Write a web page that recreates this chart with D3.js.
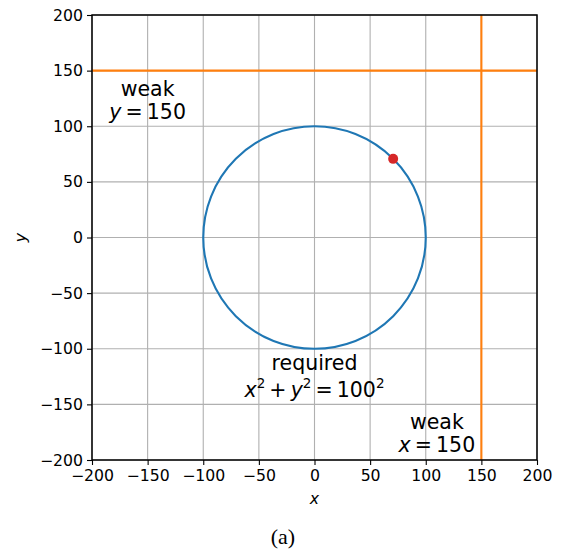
<!DOCTYPE html>
<html>
<head>
<meta charset="utf-8">
<script src="https://cdn.jsdelivr.net/npm/d3@7"></script>
<style>
  html, body { margin: 0; padding: 0; background: #fff; }
  svg { display: block; }
</style>
</head>
<body>
<svg id="chart" width="561" height="552"></svg>
<script>
const xDomain = [-200, 200];
const yDomain = [-200, 200];
const xTicks = [-200, -150, -100, -50, 0, 50, 100, 150, 200];
const yTicks = [-200, -150, -100, -50, 0, 50, 100, 150, 200];
const requiredCircle = { cx: 0, cy: 0, r: 100 };
const weakHorizontalY = [150];
const weakVerticalX = [150];
const solutionPoint = [[70.7, 70.7]];
const annotations = [
  { x: -150, y: 124, lines: ["weak", "y150"] },
  { x: 0, y: -124, lines: ["required", "circ"] },
  { x: 110, y: -176, lines: ["weak", "x150"] }
];

const svg = d3.select("#chart");
const m = { left: 92, right: 537, top: 15, bottom: 460 };
const x = d3.scaleLinear().domain(xDomain).range([m.left, m.right]);
const y = d3.scaleLinear().domain(yDomain).range([m.bottom, m.top]);
const font = "DejaVu Sans";
const fmt = d => (d < 0 ? "\u2212" + Math.abs(d) : String(d));

// grid
const g = svg.append("g");
g.selectAll(".gx").data(xTicks).enter().append("line")
  .attr("x1", d => x(d)).attr("x2", d => x(d))
  .attr("y1", m.top).attr("y2", m.bottom)
  .attr("stroke", "#b0b0b0").attr("stroke-width", 1.1);
g.selectAll(".gy").data(yTicks).enter().append("line")
  .attr("y1", d => y(d)).attr("y2", d => y(d))
  .attr("x1", m.left).attr("x2", m.right)
  .attr("stroke", "#b0b0b0").attr("stroke-width", 1.1);

// weak lines
svg.selectAll(".wh").data(weakHorizontalY).enter().append("line")
  .attr("x1", m.left).attr("x2", m.right)
  .attr("y1", d => y(d)).attr("y2", d => y(d))
  .attr("stroke", "#ff7f0e").attr("stroke-width", 2.1);
svg.selectAll(".wv").data(weakVerticalX).enter().append("line")
  .attr("y1", m.top).attr("y2", m.bottom)
  .attr("x1", d => x(d)).attr("x2", d => x(d))
  .attr("stroke", "#ff7f0e").attr("stroke-width", 2.1);

// required circle
svg.append("circle")
  .attr("cx", x(requiredCircle.cx)).attr("cy", y(requiredCircle.cy))
  .attr("r", x(requiredCircle.r) - x(0))
  .attr("fill", "none").attr("stroke", "#1f77b4").attr("stroke-width", 2.1);

// solution point
svg.selectAll(".pt").data(solutionPoint).enter().append("circle")
  .attr("cx", d => x(d[0])).attr("cy", d => y(d[1]))
  .attr("r", 5).attr("fill", "#d62728");

// axes
const xAxis = d3.axisBottom(x).tickValues(xTicks).tickFormat(fmt).tickSize(5).tickPadding(4);
const yAxis = d3.axisLeft(y).tickValues(yTicks).tickFormat(fmt).tickSize(5).tickPadding(4);
const xa = svg.append("g").attr("transform", `translate(0,${m.bottom})`).call(xAxis);
const ya = svg.append("g").attr("transform", `translate(${m.left},0)`).call(yAxis);
[xa, ya].forEach(a => {
  a.select(".domain").remove();
  a.selectAll(".tick line").attr("stroke", "#000").attr("stroke-width", 1.1);
  a.selectAll(".tick text").attr("font-family", font).attr("font-size", 15.7).attr("fill", "#000");
});
xa.selectAll(".tick text").attr("dy", "0.75em");

// spines
svg.append("rect").attr("x", m.left).attr("y", m.top)
  .attr("width", m.right - m.left).attr("height", m.bottom - m.top)
  .attr("fill", "none").attr("stroke", "#000").attr("stroke-width", 1.5);

// axis labels
svg.append("text").attr("x", (m.left + m.right) / 2).attr("y", 504)
  .attr("text-anchor", "middle").attr("font-family", font).attr("font-style", "italic")
  .attr("font-size", 15.7).text("x");
svg.append("text").attr("transform", `translate(26,${(m.top + m.bottom) / 2}) rotate(-90)`)
  .attr("text-anchor", "middle").attr("font-family", font).attr("font-style", "italic")
  .attr("font-size", 15.7).text("y");

// annotations
const fs = 20.5;
const sup = 13.5;
const sp = "\u2009";
function mathLine(t, kind) {
  if (kind === "y150") {
    t.append("tspan").attr("font-style", "italic").text("y");
    t.append("tspan").text(sp + "=" + sp + "150");
  } else if (kind === "x150") {
    t.append("tspan").attr("font-style", "italic").text("x");
    t.append("tspan").text(sp + "=" + sp + "150");
  } else if (kind === "circ") {
    t.append("tspan").attr("font-style", "italic").text("x");
    t.append("tspan").attr("font-size", sup).attr("dy", -9).text("2");
    t.append("tspan").attr("dy", 9).text(sp + "+" + sp);
    t.append("tspan").attr("font-style", "italic").text("y");
    t.append("tspan").attr("font-size", sup).attr("dy", -9).text("2");
    t.append("tspan").attr("dy", 9).text(sp + "=" + sp + "100");
    t.append("tspan").attr("font-size", sup).attr("dy", -9).text("2");
  } else {
    t.text(kind);
  }
}
annotations.forEach(a => {
  const hasSup = a.lines.includes("circ");
  a.lines.forEach((ln, i) => {
    const t = svg.append("text")
      .attr("x", x(a.x)).attr("y", y(a.y) + (i === 0 ? (hasSup ? -5 : -4) : (hasSup ? 21.5 : 19)))
      .attr("text-anchor", "middle").attr("font-family", font)
      .attr("font-size", fs).attr("fill", "#000");
    mathLine(t, ln);
  });
});

// caption
svg.append("text").attr("x", 283).attr("y", 544).attr("text-anchor", "middle")
  .attr("font-family", "Liberation Serif").attr("font-size", 22).text("(a)");
</script>
</body>
</html>
